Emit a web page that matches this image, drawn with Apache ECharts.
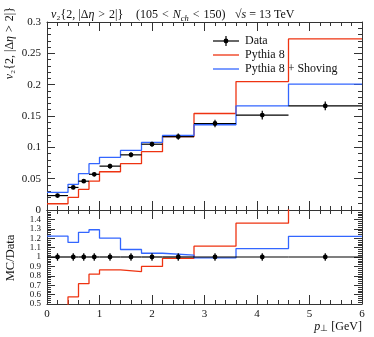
<!DOCTYPE html>
<html><head><meta charset="utf-8">
<script src="https://cdn.jsdelivr.net/npm/echarts@6/dist/echarts.min.js"></script>
<style>html,body{margin:0;padding:0;background:#fff}#c{width:374px;height:337px}</style>
</head><body><div id="c"></div>
<script>
// ---- data ----
const binEdges = [0, 0.4, 0.6, 0.8, 1.0, 1.4, 1.8, 2.2, 2.8, 3.6, 4.6, 6.0];
const dataX    = [0.2, 0.5, 0.7, 0.9, 1.2, 1.6, 2.0, 2.5, 3.2, 4.1, 5.3];
const dataY    = [0.023, 0.036, 0.046, 0.057, 0.070, 0.088, 0.105, 0.117, 0.138, 0.1515, 0.166];
const dataErr  = [0.003, 0.003, 0.003, 0.003, 0.004, 0.004, 0.004, 0.005, 0.006, 0.007, 0.007];
const pythia   = [0.010, 0.020, 0.033, 0.046, 0.061, 0.074, 0.093, 0.117, 0.154, 0.205, 0.273];
const shoving  = [0.028, 0.041, 0.058, 0.074, 0.084, 0.095, 0.108, 0.119, 0.136, 0.166, 0.201];
const pythiaRatio  = [0.44, 0.576, 0.716, 0.817, 0.863, 0.845, 0.90, 0.986, 1.115, 1.36, 1.64];
const shovingRatio = [1.223, 1.155, 1.263, 1.29, 1.20, 1.08, 1.04, 1.02, 0.99, 1.09, 1.22];
const ratioErr = [0.04, 0.04, 0.04, 0.04, 0.04, 0.04, 0.04, 0.04, 0.04, 0.04, 0.04];
const seriesNames = ['Data', 'Pythia 8', 'Pythia 8 + Shoving'];

const RED = '#EE3311', BLUE = '#3366FF', FRAME = '#333';
const FONT = 'Liberation Serif';
const SP = '\u2004'; // three-per-em space for math spacing

function stepData(vals){
  return binEdges.map((e,i)=>[e, vals[Math.min(i, vals.length-1)]]);
}
function errItems(ys, errs){
  return dataX.map((x,i)=>[x, ys[i], binEdges[i], binEdges[i+1], errs[i]]);
}
function renderErr(params, api){
  const c = api.coord([api.value(0), api.value(1)]);
  const l = api.coord([api.value(2), api.value(1)]);
  const r = api.coord([api.value(3), api.value(1)]);
  const t = api.coord([api.value(0), api.value(1)+api.value(4)]);
  const b = api.coord([api.value(0), api.value(1)-api.value(4)]);
  return {type:'group', children:[
    {type:'line', shape:{x1:l[0],y1:l[1],x2:r[0],y2:r[1]}, style:{stroke:'#000', lineWidth:1.2}},
    {type:'line', shape:{x1:t[0],y1:t[1],x2:b[0],y2:b[1]}, style:{stroke:'#000', lineWidth:1.2}},
    {type:'circle', shape:{cx:c[0], cy:c[1], r:2.4}, style:{fill:'#000'}}
  ]};
}

function xAx(grid, pos, labels){
  return {type:'value', gridIndex:grid, position:pos, min:0, max:6, interval:1,
    axisLine:{show:true, onZero:false, lineStyle:{color:FRAME, width:1}},
    axisTick:{show:true, inside:true, length:9, lineStyle:{color:FRAME}},
    minorTick:{show:true, splitNumber:5, length:4, lineStyle:{color:FRAME}},
    splitLine:{show:false},
    axisLabel:{show:labels, color:'#111', fontFamily:FONT, fontSize:11, margin:5}};
}
function yAx(grid, pos, min, max, interval, minorSplit, labels, fmt, fs){
  return {type:'value', gridIndex:grid, position:pos, min:min, max:max, interval:interval,
    axisLine:{show:true, onZero:false, lineStyle:{color:FRAME, width:1}},
    axisTick:{show:true, inside:true, length:8, lineStyle:{color:FRAME}},
    minorTick:{show:true, splitNumber:minorSplit, length:4, lineStyle:{color:FRAME}},
    splitLine:{show:false},
    axisLabel:{show:labels, color:'#111', fontFamily:FONT, fontSize:fs, margin:6, formatter:fmt}};
}

const FS = 12;
const rich = {
  n:{fontFamily:FONT, fontSize:FS, color:'#111', fill:'#111', lineHeight:16},
  i:{fontFamily:FONT, fontSize:FS, fontStyle:'italic', color:'#111', fill:'#111', lineHeight:16},
  s:{fontFamily:FONT, fontSize:8.5, fontStyle:'italic', color:'#111', fill:'#111', lineHeight:16, verticalAlign:'bottom'}
};
const baseText = {fontFamily:FONT, fontSize:FS, fontWeight:'normal', color:'#111', lineHeight:16, rich:rich};
const v2Label = '{i|v}{n|₂{2, |Δ}{i|η}{n|' + SP + '>' + SP + '2|}}';

const chart = echarts.init(document.getElementById('c'), null, {renderer:'canvas'});
chart.setOption({
  animation:false,
  title:[
    {text:v2Label, left:46, top:2, textStyle:baseText},
    {text:'{n|(105' + SP + '<' + SP + '}{i|N}{s|ch}{n|' + SP + '<' + SP + '150)}', left:131, top:2, textStyle:baseText},
    {text:'{n|√}{i|s}{n| = 13 TeV}', left:230, top:2, textStyle:baseText}
  ],
  grid:[
    {left:47, top:22, width:315, height:188},
    {left:47, top:210, width:315, height:94}
  ],
  xAxis:[
    xAx(0,'bottom',false), xAx(0,'top',false),
    xAx(1,'bottom',true), xAx(1,'top',false)
  ],
  yAxis:[
    yAx(0,'left',0,0.3,0.05,5,true,null,11),
    yAx(0,'right',0,0.3,0.05,5,false,null,11),
    yAx(1,'left',0.5,1.5,0.1,5,true,function(v){return v>1.45?'':String(Math.round(v*10)/10);},9),
    yAx(1,'right',0.5,1.5,0.1,5,false,null,9)
  ],
  series:[
    {name:seriesNames[1], type:'line', xAxisIndex:0, yAxisIndex:0, step:'end', data:stepData(pythia),
      showSymbol:false, lineStyle:{color:RED, width:1.3}, clip:true, z:3},
    {name:seriesNames[2], type:'line', xAxisIndex:0, yAxisIndex:0, step:'end', data:stepData(shoving),
      showSymbol:false, lineStyle:{color:BLUE, width:1.3}, clip:true, z:3},
    {name:seriesNames[0], type:'custom', xAxisIndex:0, yAxisIndex:0, data:errItems(dataY, dataErr),
      renderItem:renderErr, z:4},
    {name:seriesNames[1]+' ratio', type:'line', xAxisIndex:2, yAxisIndex:2, step:'end', data:stepData(pythiaRatio),
      showSymbol:false, lineStyle:{color:RED, width:1.3}, clip:true, z:3},
    {name:seriesNames[2]+' ratio', type:'line', xAxisIndex:2, yAxisIndex:2, step:'end', data:stepData(shovingRatio),
      showSymbol:false, lineStyle:{color:BLUE, width:1.3}, clip:true, z:3},
    {name:seriesNames[0]+' ratio', type:'custom', xAxisIndex:2, yAxisIndex:2,
      data:dataX.map((x,i)=>[x, 1, binEdges[i], binEdges[i+1], ratioErr[i]]),
      renderItem:renderErr, z:4}
  ],
  graphic:[
    // legend
    {type:'line', shape:{x1:213,y1:41,x2:239,y2:41}, style:{stroke:'#000', lineWidth:1.2}},
    {type:'line', shape:{x1:226,y1:36,x2:226,y2:46}, style:{stroke:'#000', lineWidth:1.2}},
    {type:'circle', shape:{cx:226,cy:41,r:2.4}, style:{fill:'#000'}},
    {type:'text', x:245, y:41, style:{text:seriesNames[0], fontFamily:FONT, fontSize:12, fill:'#111', verticalAlign:'middle'}},
    {type:'line', shape:{x1:213,y1:55,x2:239,y2:55}, style:{stroke:RED, lineWidth:1.3}},
    {type:'text', x:245, y:55, style:{text:seriesNames[1], fontFamily:FONT, fontSize:12, fill:'#111', verticalAlign:'middle'}},
    {type:'line', shape:{x1:213,y1:69,x2:239,y2:69}, style:{stroke:BLUE, lineWidth:1.3}},
    {type:'text', x:245, y:69, style:{text:seriesNames[2], fontFamily:FONT, fontSize:12, fill:'#111', verticalAlign:'middle'}},
    // y-axis titles
    {type:'text', x:10, y:7, rotation:Math.PI/2,
      style:{text:v2Label, align:'right', verticalAlign:'middle',
        fontFamily:FONT, fontSize:FS, fill:'#111', rich:rich}},
    {type:'text', x:11, y:258, rotation:Math.PI/2,
      style:{text:'MC/Data', align:'center', verticalAlign:'middle', fontFamily:FONT, fontSize:12.5, fill:'#111'}},
    // x-axis title
    {type:'text', x:362, y:327,
      style:{text:'{i|p}{t|⊥}{n| [GeV]}', align:'right', verticalAlign:'middle',
        fontFamily:FONT, fontSize:FS, fill:'#111',
        rich:{n:{fontFamily:FONT,fontSize:FS,fill:'#111'}, i:{fontFamily:FONT,fontSize:FS,fontStyle:'italic',fill:'#111'},
              t:{fontFamily:FONT,fontSize:8.5,fill:'#111', padding:[4,0,0,0]}}}}
  ]
});
</script>
</body></html>
